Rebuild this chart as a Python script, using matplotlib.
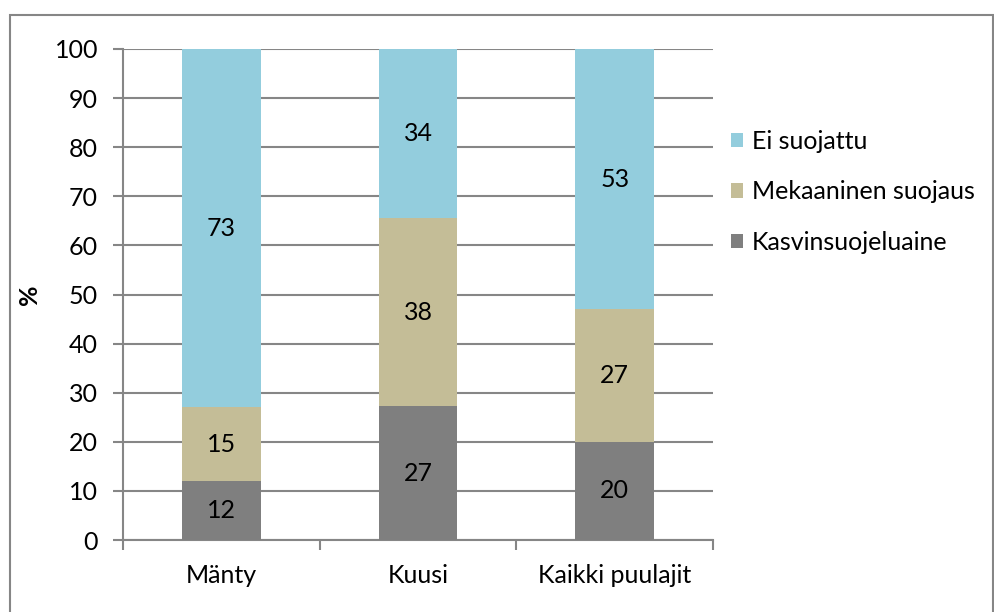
import matplotlib.pyplot as plt
import numpy as np
from matplotlib.patches import Rectangle

plt.rcParams["font.family"] = ["Lato", "DejaVu Sans"]

# Data
categories = ["Mänty", "Kuusi", "Kaikki puulajit"]
series_names = ["Kasvinsuojeluaine", "Mekaaninen suojaus", "Ei suojattu"]
kasvinsuojeluaine = [12, 27.2, 20]
mekaaninen = [15, 38.4, 27]
ei_suojattu = [73, 34.4, 53]
colors = ["#7F7F7F", "#C4BD97", "#93CDDD"]

FS = 18
W, H = 995, 612
fig = plt.figure(figsize=(W / 100, H / 100), dpi=100)
ax = fig.add_axes([123 / W, 1 - 540 / H, 590 / W, 491 / H])

# outer chart border (Excel chart area)
fig.patches.append(
    Rectangle((10 / W, -0.05), 983 / W, 1.05 - 15 / H, transform=fig.transFigure,
              fill=False, edgecolor="#868686", linewidth=1.5)
)

x = np.arange(len(categories))
bottom = np.zeros(len(categories))
for vals, name, col in zip([kasvinsuojeluaine, mekaaninen, ei_suojattu], series_names, colors):
    vals = np.array(vals)
    ax.bar(x, vals, 0.4, bottom=bottom, color=col, label=name, zorder=3)
    for xi, b, v in zip(x, bottom, vals):
        ax.text(xi, b + v / 2, f"{v:.0f}", ha="center", va="center", fontsize=FS,
                color="black", zorder=4)
    bottom += vals

ax.set_xlim(-0.5, 2.5)
ax.set_ylim(0, 100)
ax.set_yticks(np.arange(0, 101, 10))
ax.set_xticks(x)
ax.set_xticklabels(categories, fontsize=FS)
ax.set_xticks([-0.5, 0.5, 1.5, 2.5], minor=True)
ax.tick_params(axis="x", which="major", length=0, pad=17)
ax.tick_params(axis="x", which="minor", length=7, color="#868686", width=1.5)
ax.tick_params(axis="y", length=7, color="#868686", width=1.5, labelsize=FS, pad=11)
ax.grid(axis="y", color="#868686", linewidth=1.5, zorder=0)
for s in ["top", "right"]:
    ax.spines[s].set_visible(False)
for s in ["left", "bottom"]:
    ax.spines[s].set_color("#868686")
    ax.spines[s].set_linewidth(1.5)
ax.set_ylabel("%", fontsize=FS, fontweight="bold", labelpad=10)

handles, labels = ax.get_legend_handles_labels()
ax.legend(handles[::-1], labels[::-1], loc="center left", bbox_to_anchor=(1.0, 0.709),
          frameon=False, fontsize=FS, handlelength=0.5, handleheight=0.5,
          handletextpad=0.35, labelspacing=1.1, borderaxespad=0.3)

fig.savefig("out.png", dpi=100)
